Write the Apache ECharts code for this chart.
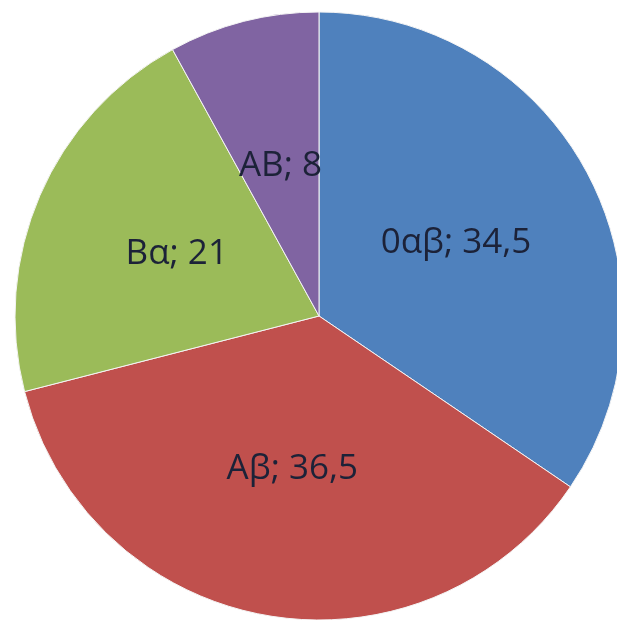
<!DOCTYPE html>
<html>
<head>
<meta charset="utf-8">
<script src="https://cdn.jsdelivr.net/npm/echarts@6/dist/echarts.min.js"></script>
<style>
  html, body { margin: 0; padding: 0; background: #fff; }
  #chart { width: 617px; height: 620px; }
</style>
</head>
<body>
<div id="chart"></div>
<script>
  var names = ['0αβ', 'Aβ', 'Bα', 'AB'];
  var values = [34.5, 36.5, 21, 8];
  var colors = ['#4F81BD', '#C0504D', '#9BBB59', '#8064A2'];

  var pieData = names.map(function (n, i) {
    return { name: n, value: values[i], itemStyle: { color: colors[i] } };
  });

  var myChart = echarts.init(document.getElementById('chart'));
  myChart.setOption({
    animation: false,
    series: [{
      type: 'pie',
      center: [319, 316],
      radius: 304,
      startAngle: 90,
      clockwise: true,
      itemStyle: { borderColor: '#f4f4f4', borderWidth: 1 },
      label: {
        position: 'inner',
        color: '#1c2238',
        fontFamily: 'Open Sans',
        fontSize: 35,
        formatter: function (p) {
          return p.name + '; ' + String(p.value).replace('.', ',');
        }
      },
      labelLine: { show: false },
      data: pieData
    }]
  });
</script>
</body>
</html>
